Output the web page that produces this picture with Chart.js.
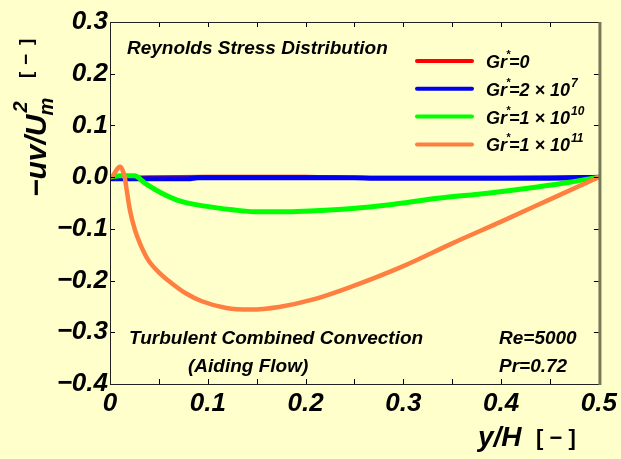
<!DOCTYPE html>
<html>
<head>
<meta charset="utf-8">
<script src="https://cdn.jsdelivr.net/npm/chart.js@4.4.1/dist/chart.umd.min.js"></script>
<style>
  html, body { margin: 0; padding: 0; background: #ffffcc; }
  canvas { display: block; }
</style>
</head>
<body>
<canvas id="stress" width="621" height="459"></canvas>
<script>
// y/H positions and -uv/Um^2 values for each Grashof number
var xRed = [0, 0.04, 0.1, 0.2, 0.26, 0.4, 0.5];
var yRed = [-0.002, 0.000, 0.001, 0.001, -0.001, -0.001, 0];

var xBlue = [0, 0.08, 0.09, 0.25, 0.27, 0.45, 0.5];
var yBlue = [-0.003, -0.003, -0.001, -0.001, -0.002, -0.002, 0];

var xGreen = [0, 0.01, 0.025, 0.036, 0.053, 0.073, 0.097, 0.125, 0.148, 0.182, 0.21, 0.245, 0.284, 0.335, 0.386, 0.437, 0.47, 0.5];
var yGreen = [0, 0.0025, 0.0025, -0.012, -0.031, -0.047, -0.056, -0.063, -0.067, -0.067, -0.065, -0.061, -0.054, -0.041, -0.031, -0.019, -0.010, 0];

var xOrange = [0, 0.003, 0.006, 0.009, 0.0105, 0.0125, 0.015, 0.0175, 0.0204, 0.0255, 0.0306, 0.039, 0.051, 0.063, 0.077, 0.094, 0.119, 0.143, 0.173, 0.207, 0.245, 0.3, 0.35, 0.4, 0.45, 0.5];
var yOrange = [0, 0.003, 0.012, 0.019, 0.020, 0.015, 0.000, -0.030, -0.064, -0.102, -0.128, -0.160, -0.186, -0.205, -0.224, -0.240, -0.253, -0.256, -0.251, -0.237, -0.213, -0.172, -0.128, -0.086, -0.043, 0];

var legendMant = ['0', '2 \u00d7 10', '1 \u00d7 10', '1 \u00d7 10'];
var legendExp = ['', '7', '10', '11'];
var seriesColors = ['#ff0000', '#0000ee', '#00ff00', '#ff7f40'];
var seriesWidths = [4, 5, 5, 4.5];

var xTicks = [0, 0.1, 0.2, 0.3, 0.4, 0.5];
var yTicks = [-0.4, -0.3, -0.2, -0.1, 0.0, 0.1, 0.2, 0.3];

function pts(xs, ys) {
  return xs.map(function (x, i) { return { x: x, y: ys[i] }; });
}

var FONT = '"Liberation Sans", Arial, sans-serif';
function f(size, italic) {
  return (italic ? 'italic ' : '') + 'bold ' + size + 'px ' + FONT;
}

// frame, inward ticks, legend, notes and axis titles
var decor = {
  id: 'decor',
  beforeDraw: function (chart) {
    var c = chart.ctx;
    c.save();
    c.fillStyle = '#ffffcc';
    c.fillRect(0, 0, chart.width, chart.height);
    c.restore();
  },
  afterDraw: function (chart) {
    var c = chart.ctx, a = chart.chartArea;
    var sx = chart.scales.x, sy = chart.scales.y;
    c.save();

    // inward tick marks
    c.strokeStyle = '#000';
    c.lineWidth = 1;
    c.beginPath();
    for (var v = 0.05; v < 0.5; v += 0.05) {
      var px = Math.round(sx.getPixelForValue(v)) + 0.5;
      c.moveTo(px, a.bottom); c.lineTo(px, a.bottom - 5);
      c.moveTo(px, a.top); c.lineTo(px, a.top + 5);
    }
    yTicks.forEach(function (t) {
      var py = Math.round(sy.getPixelForValue(t)) + 0.5;
      c.moveTo(a.left, py); c.lineTo(a.left + 5, py);
      c.moveTo(a.right, py); c.lineTo(a.right - 5, py);
    });
    c.stroke();

    // frame
    c.strokeStyle = '#222';
    c.lineWidth = 1;
    c.beginPath();
    c.moveTo(a.left + 0.5, a.bottom); c.lineTo(a.left + 0.5, a.top + 0.5);
    c.lineTo(a.right, a.top + 0.5);
    c.moveTo(a.left, a.bottom + 0.5); c.lineTo(a.right, a.bottom + 0.5);
    c.stroke();
    c.strokeStyle = '#77775a';
    c.lineWidth = 3;
    c.beginPath();
    c.moveTo(a.right + 1, a.top); c.lineTo(a.right + 1, a.bottom + 1);
    c.stroke();

    // notes inside the plot
    c.fillStyle = '#000';
    c.textBaseline = 'alphabetic';
    c.textAlign = 'left';
    c.font = f(19, true);
    c.fillText('Reynolds Stress Distribution', a.left + 17, a.top + 32);
    c.fillText('Turbulent Combined Convection', a.left + 19, a.top + 322);
    c.fillText('(Aiding Flow)', a.left + 78, a.top + 350);
    c.fillText('Re=5000', a.left + 389, a.top + 322);
    c.fillText('Pr=0.72', a.left + 389, a.top + 350);

    // legend
    for (var i = 0; i < legendMant.length; i++) {
      var ly = a.top + 39 + i * 27.8;
      c.strokeStyle = seriesColors[i];
      c.lineWidth = 4;
      c.lineCap = 'round';
      c.beginPath();
      c.moveTo(a.left + 307, ly); c.lineTo(a.left + 362, ly);
      c.stroke();
      var tx = a.left + 376, by = ly + 7;
      c.font = f(18, true);
      c.fillText('Gr', tx, by);
      tx += c.measureText('Gr').width;
      c.font = f(11, true);
      c.fillText('*', tx - 1, by - 10);
      tx += 2;
      c.font = f(18, true);
      var s = '=' + legendMant[i];
      c.fillText(s, tx, by);
      tx += c.measureText(s).width;
      if (legendExp[i]) {
        c.font = f(12, true);
        c.fillText(legendExp[i], tx + 1, by - 9);
      }
    }

    // x axis title
    c.font = f(28, true);
    c.fillText('y/H', 478, 446);
    c.font = f(22, false);
    c.fillText('[ \u2212 ]', 536, 445);

    // y axis title, rotated
    c.translate(46, 197);
    c.rotate(-Math.PI / 2);
    c.font = f(30, true);
    var t = '\u2212uv/U';
    c.fillText(t, 0, 0);
    var w = c.measureText(t).width;
    c.font = f(20, true);
    c.fillText('m', w - 1, 7);
    c.fillText('2', w + 2, -19);
    c.font = f(19, false);
    c.fillText('[', 119, -14);
    c.fillText('\u2212', 132, -14);
    c.fillText(']', 152, -14);

    c.restore();
  }
};

function lineSet(xs, ys, i, order) {
  return {
    data: pts(xs, ys),
    borderColor: seriesColors[i],
    backgroundColor: seriesColors[i],
    borderWidth: seriesWidths[i],
    pointRadius: 0,
    cubicInterpolationMode: 'monotone',
    fill: false,
    order: order
  };
}

new Chart(document.getElementById('stress'), {
  type: 'line',
  data: {
    datasets: [
      lineSet(xRed, yRed, 0, 4),
      lineSet(xBlue, yBlue, 1, 3),
      lineSet(xGreen, yGreen, 2, 2),
      lineSet(xOrange, yOrange, 3, 1)
    ]
  },
  options: {
    responsive: false,
    animation: false,
    devicePixelRatio: 1,
    layout: { padding: { top: 22, right: 21, left: 0, bottom: 0 } },
    plugins: { legend: { display: false }, tooltip: { enabled: false } },
    scales: {
      x: {
        type: 'linear',
        min: 0, max: 0.5,
        afterBuildTicks: function (s) { s.ticks = xTicks.map(function (v) { return { value: v }; }); },
        afterFit: function (s) { s.height = 75; },
        grid: { display: false, drawTicks: false },
        border: { display: false },
        ticks: {
          padding: 4,
          color: '#000',
          font: { family: FONT, size: 26, weight: 'bold', style: 'italic' },
          maxRotation: 0,
          callback: function (v) { return v === 0 ? '0' : v.toFixed(1); }
        }
      },
      y: {
        min: -0.4, max: 0.3,
        afterBuildTicks: function (s) { s.ticks = yTicks.map(function (v) { return { value: v }; }); },
        afterFit: function (s) { s.width = 110; },
        grid: { display: false, drawTicks: false },
        border: { display: false },
        ticks: {
          padding: 2,
          color: '#000',
          font: { family: FONT, size: 26, weight: 'bold', style: 'italic' },
          callback: function (v) {
            var r = Math.round(v * 10) / 10;
            return (r < 0 ? '\u2212' : '') + Math.abs(r).toFixed(1);
          }
        }
      }
    }
  },
  plugins: [decor]
});
</script>
</body>
</html>
